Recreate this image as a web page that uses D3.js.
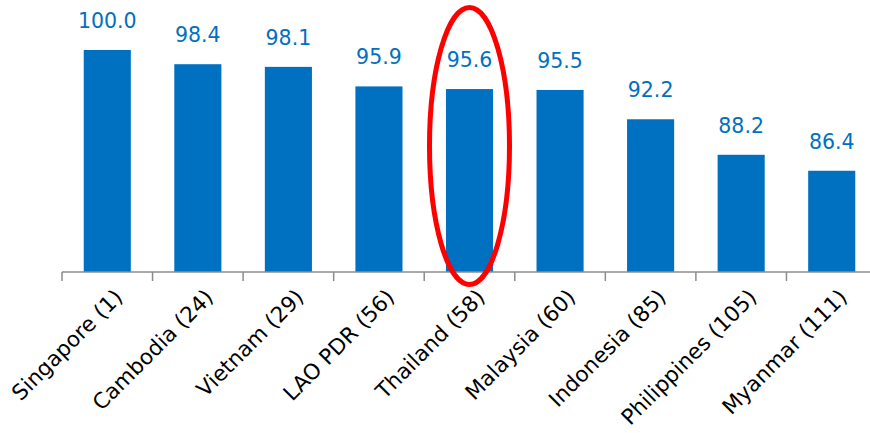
<!DOCTYPE html>
<html>
<head>
<meta charset="utf-8">
<script src="https://cdn.jsdelivr.net/npm/d3@7"></script>
<style>
  body { margin: 0; background: #fff; }
  svg { display: block; }
</style>
</head>
<body>
<script>
'use strict';

// chart data
const countries = ["Singapore (1)", "Cambodia (24)", "Vietnam (29)", "LAO PDR (56)", "Thailand (58)",
  "Malaysia (60)", "Indonesia (85)", "Philippines (105)", "Myanmar (111)"];
const scores = [100.0, 98.4, 98.1, 95.9, 95.6, 95.5, 92.2, 88.2, 86.4];
const highlight = "Thailand (58)";

const width = 870, height = 433;
const blue = "#0070C0";

let svg = d3.select("body").append("svg")
  .attr("width", width)
  .attr("height", height);

// band scale - last band runs off the right edge like the original
let xScale = d3.scaleBand()
  .domain(countries)
  .range([62, 877])
  .paddingInner(0.48)
  .paddingOuter(0.24);

let yScale = d3.scaleLinear()
  .domain([75, 100])
  .range([272, 50]);

// bars
svg.selectAll(".bar")
  .data(scores)
  .enter()
  .append("rect")
  .attr("class", "bar")
  .attr("x", (d, i) => xScale(countries[i]))
  .attr("y", d => yScale(d))
  .attr("width", xScale.bandwidth())
  .attr("height", d => yScale.range()[0] - yScale(d))
  .attr("fill", blue);

// value labels
svg.selectAll(".val")
  .data(scores)
  .enter()
  .append("text")
  .attr("class", "val")
  .attr("x", (d, i) => xScale(countries[i]) + xScale.bandwidth() / 2)
  .attr("y", d => yScale(d) - 22)
  .attr("text-anchor", "middle")
  .style("font-family", "DejaVu Sans, sans-serif")
  .style("font-size", "20.5px")
  .style("fill", blue)
  .text(d => d.toFixed(1));

// x axis: baseline + ticks at band edges
let axis = svg.append("g");
let step = xScale.step();
axis.append("line")
  .attr("x1", 62).attr("x2", width)
  .attr("y1", 272).attr("y2", 272)
  .attr("stroke", "#8c8c8c")
  .attr("stroke-width", 1.5);
axis.selectAll(".tick")
  .data(countries)
  .enter()
  .append("line")
  .attr("x1", d => xScale(d) - step * 0.24)
  .attr("x2", d => xScale(d) - step * 0.24)
  .attr("y1", 272).attr("y2", 281)
  .attr("stroke", "#8c8c8c")
  .attr("stroke-width", 1.5);

// rotated category labels
axis.selectAll(".lbl")
  .data(countries)
  .enter()
  .append("text")
  .attr("class", "lbl")
  .attr("transform", d => "translate(" + (xScale(d) + xScale.bandwidth() / 2 + 6) + ",288)rotate(-45)")
  .attr("text-anchor", "end")
  .attr("dy", "0.7em")
  .style("font-family", "DejaVu Sans, sans-serif")
  .style("font-size", "21.5px")
  .style("fill", "#000")
  .text(d => d);

// red ellipse around the highlighted bar
svg.append("ellipse")
  .attr("cx", xScale(highlight) + xScale.bandwidth() / 2)
  .attr("cy", 146)
  .attr("rx", 40)
  .attr("ry", 138.5)
  .attr("fill", "none")
  .attr("stroke", "#ff0000")
  .attr("stroke-width", 5);
</script>
</body>
</html>
